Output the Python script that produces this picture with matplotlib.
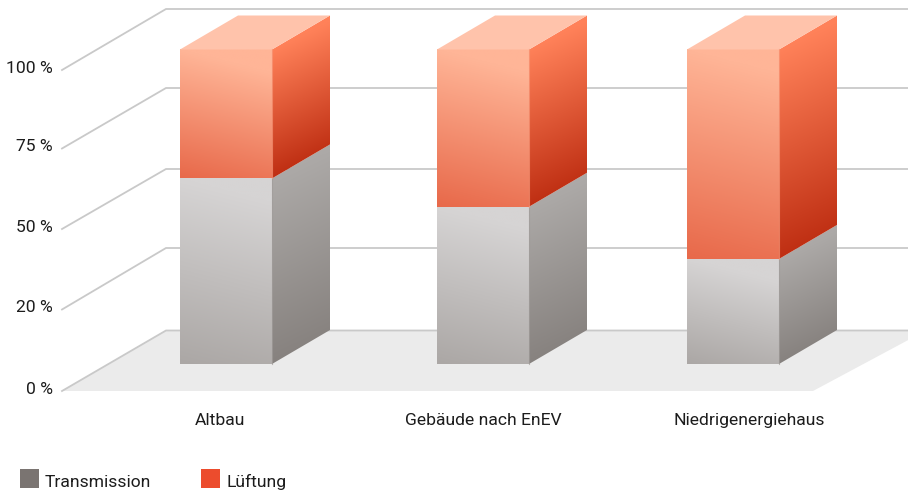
import matplotlib
matplotlib.use("Agg")
import matplotlib.pyplot as plt
import numpy as np
from matplotlib.colors import LinearSegmentedColormap
from matplotlib.patches import Polygon, Rectangle

# Share of heat loss per building type, in percent
categories = ["Altbau", "Gebäude nach EnEV", "Niedrigenergiehaus"]
transmission = [59.0, 50.0, 33.4]
lueftung = [41.0, 50.0, 66.6]
tick_labels = ["0 %", "20 %", "50 %", "75 %", "100 %"]
legend_labels = ["Transmission", "Lüftung"]

# Layout in pixels
WIDTH, HEIGHT = 908, 490
BASE_Y = 364.0       # pixel row of value 0 on the bars' front face
PX_PER_PCT = 3.145
BAR_LEFT = [180, 437, 687]
BAR_W = 92
DX, DY = 58, 34      # depth of the bars
FRONT_X, BACK_X = 62, 166
GRID_FRONT = np.array([391, 309.5, 229, 148.5, 70])
GRID_BACK = np.array([330.5, 248, 169, 88, 9])
LABEL_X = [220, 483, 749]

GRID_COLOR = "#c9c9c9"
TEXT_COLOR = "#1c1c1c"
FONT = "Roboto"
FONT_SIZE = 12.6


def py(y):
    # pixel row -> value on the percent axis
    return (BASE_Y - y) / PX_PER_PCT


fig = plt.figure(figsize=(WIDTH / 100, HEIGHT / 100), dpi=100)
ax = fig.add_axes([0, 0, 1, 1])
ax.set_axis_off()
ax.set_xlim(0, WIDTH)
ax.set_ylim(py(HEIGHT), py(0))


def shaded(corners, top, bottom, c0, c1, tilt):
    # fill a polygon with a linear gradient running from value top to value bottom
    corners = np.array(corners)
    x0, x1 = corners[:, 0].min(), corners[:, 0].max()
    y0, y1 = corners[:, 1].min(), corners[:, 1].max()
    xs = np.linspace(x0, x1, 60)
    ys = np.linspace(y1, y0, 240)
    gx, gy = np.meshgrid(xs, ys)
    t = (top - gy + tilt * (gx - x0)) / (top - bottom)
    cmap = LinearSegmentedColormap.from_list("face", [c0, c1])
    im = ax.imshow(t, extent=[x0, x1, y0, y1], origin="upper", aspect="auto",
                   cmap=cmap, vmin=0, vmax=1, interpolation="bilinear", zorder=3)
    clip = Polygon(corners, closed=True, transform=ax.transData, fc="none", ec="none")
    ax.add_patch(clip)
    im.set_clip_path(clip)


def draw_segment(left, low, high, front_colors, side_colors, edge):
    right = left + BAR_W
    dx, dy = DX, DY / PX_PER_PCT
    shaded([(left, low), (right, low), (right, high), (left, high)],
           high, low, front_colors[0], front_colors[1], -0.08)
    shaded([(right, low), (right + dx, low + dy), (right + dx, high + dy), (right, high)],
           high, low, side_colors[0], side_colors[1], 0.15)
    ax.plot([right, right], [low, high], color=edge, lw=0.8, alpha=0.7, zorder=4)


# Floor and walls
floor = Polygon([(FRONT_X, py(GRID_FRONT[0])), (BACK_X, py(GRID_BACK[0])),
                 (BACK_X + 760, py(GRID_BACK[0])), (813, py(GRID_FRONT[0]))],
                closed=True, fc="#ebebeb", ec="none", zorder=1)
ax.add_patch(floor)
for front, back in zip(GRID_FRONT, GRID_BACK):
    ax.plot([FRONT_X, BACK_X, WIDTH], [py(front), py(back), py(back)],
            color=GRID_COLOR, lw=1.3, solid_joinstyle="miter", zorder=2)

# Stacked bars
for left, t_val, l_val in zip(BAR_LEFT, transmission, lueftung):
    total = t_val + l_val
    draw_segment(left, 0, t_val, ("#d6d4d4", "#aba7a5"), ("#aca9a7", "#87827f"), "#a19d9b")
    draw_segment(left, t_val, total, ("#ffb597", "#e8694a"), ("#ff8159", "#bf2f13"), "#f79a7c")
    # top face
    right = left + BAR_W
    dy = DY / PX_PER_PCT
    ax.add_patch(Polygon([(left, total), (right, total), (right + DX, total + dy), (left + DX, total + dy)],
                         closed=True, fc="#ffc3ab", ec="none", zorder=3))

ax.set_xlim(0, WIDTH)
ax.set_ylim(py(HEIGHT), py(0))

# Axis and category labels
for label, front in zip(tick_labels, GRID_FRONT):
    ax.text(53, py(front - 2), label, ha="right", va="center",
            fontsize=FONT_SIZE, family=FONT, color=TEXT_COLOR)
for label, x in zip(categories, LABEL_X):
    ax.text(x, py(420), label, ha="center", va="center",
            fontsize=FONT_SIZE, family=FONT, color=TEXT_COLOR)

# Legend
for label, x, color in zip(legend_labels, [20, 201], ["#7a7471", "#ec4c2d"]):
    ax.add_patch(Rectangle((x, py(488)), 19, 19 / PX_PER_PCT, fc=color, ec="none"))
    ax.text(x + 25, py(482), label, ha="left", va="center",
            fontsize=FONT_SIZE, family=FONT, color=TEXT_COLOR)

fig.savefig("out.png", dpi=100)
